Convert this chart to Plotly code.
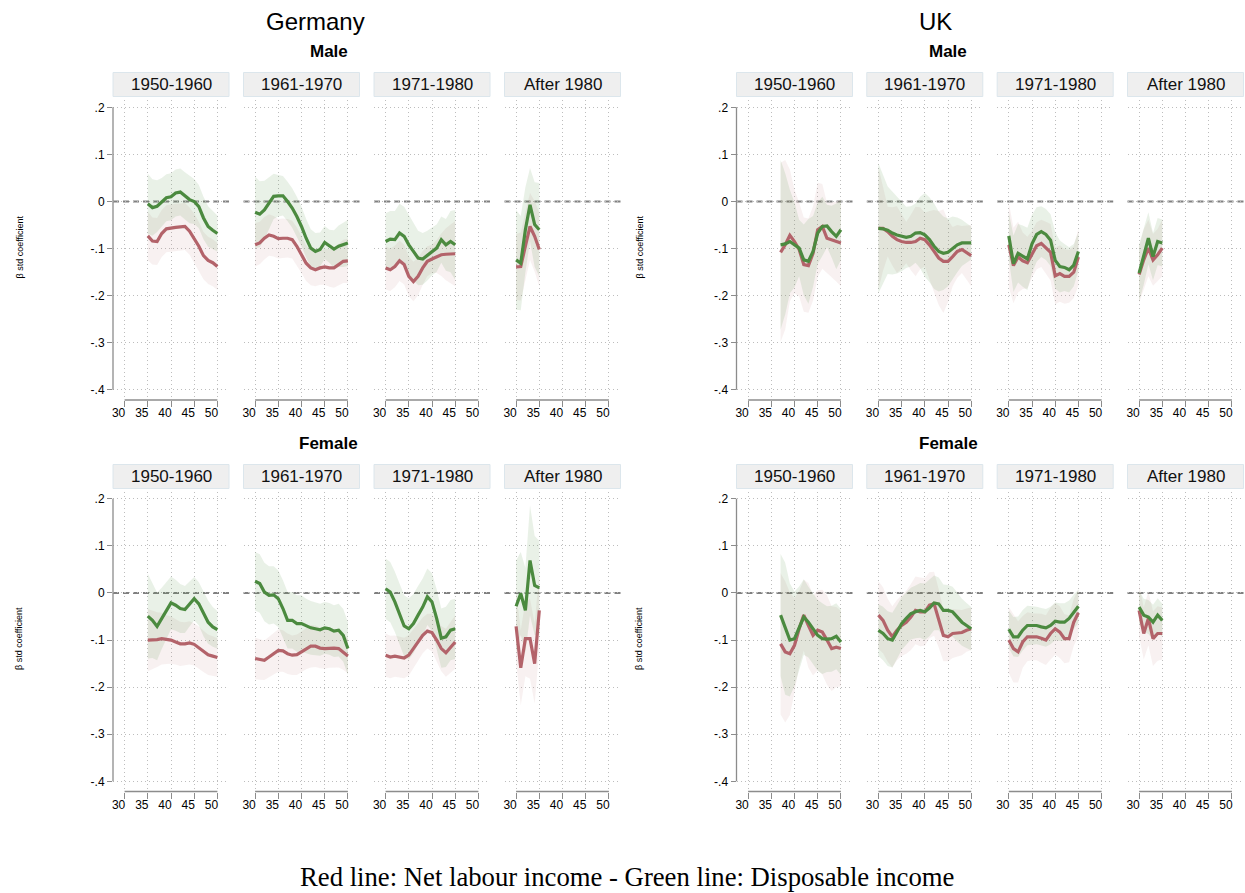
import plotly.graph_objects as go

# ---------------- data ----------------
COUNTRIES = ["Germany", "UK"]
GENDERS = ["Male", "Female"]
COHORTS = ["1950-1960", "1961-1970", "1971-1980", "After 1980"]
X_TICKS = [30, 35, 40, 45, 50]
Y_TICKS = [-0.4, -0.3, -0.2, -0.1, 0, 0.1, 0.2]
Y_TICKTEXT = ["-.4", "-.3", "-.2", "-.1", "0", ".1", ".2"]
CAPTION = "Red line: Net labour income - Green line: Disposable income"
Y_TITLE = "β std coefficient"

AGES_35_50 = [35, 36, 37, 38, 39, 40, 41, 42, 43, 44, 45, 46, 47, 48, 49, 50]
AGES_37_50 = [37, 38, 39, 40, 41, 42, 43, 44, 45, 46, 47, 48, 49, 50]
AGES_30_50 = [30, 31, 32, 33, 34, 35, 36, 37, 38, 39, 40, 41, 42, 43, 44, 45, 46, 47, 48, 49, 50]
AGES_30_45 = [30, 31, 32, 33, 34, 35, 36, 37, 38, 39, 40, 41, 42, 43, 44, 45]
AGES_30_35 = [30, 31, 32, 33, 34, 35]

# Germany - Male
GER_M_1950_RED = [-.073, -.084, -.085, -.068, -.058, -.056, -.055, -.054, -.053, -.063, -.078, -.095, -.115, -.125, -.130, -.138]
GER_M_1950_GREEN = [-.005, -.013, -.010, -.002, .008, .010, .018, .020, .012, .004, .000, -.011, -.035, -.053, -.061, -.068]
GER_M_1950_RED_HW = [.052, .050, .050, .050, .050, .050, .050, .050, .050, .050, .052, .052, .050, .050, .050, .050]
GER_M_1950_GREEN_HW = [.064, .060, .055, .052, .050, .050, .050, .050, .050, .050, .048, .046, .045, .043, .040, .038]

GER_M_1961_RED = [-.092, -.088, -.078, -.071, -.074, -.079, -.078, -.078, -.081, -.095, -.113, -.131, -.141, -.145, -.141, -.139, -.141, -.141, -.134, -.127, -.126]
GER_M_1961_GREEN = [-.023, -.027, -.018, -.004, .011, .012, .012, .000, -.014, -.032, -.053, -.078, -.099, -.106, -.102, -.087, -.095, -.101, -.095, -.092, -.088]
GER_M_1961_RED_HW = [.046, .045, .045, .044, .043, .042, .042, .041, .040, .040, .039, .038, .037, .035, .036, .038, .040, .042, .044, .046, .047]
GER_M_1961_GREEN_HW = [.076, .070, .062, .055, .048, .044, .042, .042, .042, .042, .042, .041, .040, .039, .036, .035, .035, .040, .044, .047, .049]

GER_M_1971_RED = [-.141, -.145, -.138, -.126, -.134, -.159, -.170, -.159, -.141, -.127, -.122, -.117, -.113, -.112, -.111, -.111]
GER_M_1971_GREEN = [-.085, -.080, -.081, -.067, -.074, -.092, -.106, -.120, -.122, -.115, -.106, -.099, -.081, -.092, -.085, -.092]
GER_M_1971_RED_HW = [.046, .045, .044, .043, .042, .042, .042, .040, .036, .032, .030, .035, .045, .055, .062, .069]
GER_M_1971_GREEN_HW = [.060, .060, .061, .062, .063, .064, .062, .058, .055, .053, .051, .050, .049, .055, .065, .074]

GER_M_1980_RED = [-.139, -.138, -.095, -.053, -.074, -.102]
GER_M_1980_GREEN = [-.124, -.131, -.060, -.007, -.049, -.060]
GER_M_1980_RED_HW = [.070, .072, .072, .071, .075, .078]
GER_M_1980_GREEN_HW = [.106, .100, .090, .078, .090, .099]

# Germany - Female
GER_F_1950_RED = [-.100, -.100, -.099, -.097, -.099, -.100, -.104, -.108, -.108, -.106, -.109, -.116, -.124, -.131, -.134, -.137]
GER_F_1950_GREEN = [-.049, -.058, -.071, -.054, -.037, -.021, -.026, -.033, -.035, -.023, -.012, -.023, -.044, -.062, -.072, -.078]
GER_F_1950_RED_HW = [.066, .062, .058, .055, .052, .050, .048, .047, .046, .046, .045, .045, .044, .043, .042, .041]
GER_F_1950_GREEN_HW = [.090, .080, .072, .065, .060, .056, .054, .052, .050, .048, .046, .046, .048, .046, .042, .040]

GER_F_1961_RED = [-.139, -.141, -.143, -.136, -.129, -.122, -.123, -.129, -.132, -.131, -.125, -.118, -.113, -.113, -.117, -.118, -.117, -.117, -.118, -.125, -.134]
GER_F_1961_GREEN = [.025, .020, .002, -.005, -.004, -.012, -.033, -.058, -.058, -.065, -.065, -.070, -.074, -.076, -.078, -.074, -.076, -.081, -.079, -.090, -.118]
GER_F_1961_RED_HW = [.044, .043, .042, .043, .044, .045, .044, .043, .042, .043, .043, .044, .045, .044, .043, .043, .042, .041, .040, .038, .037]
GER_F_1961_GREEN_HW = [.062, .062, .062, .062, .061, .060, .060, .060, .060, .060, .060, .058, .057, .056, .055, .055, .055, .055, .056, .056, .056]

GER_F_1971_RED = [-.132, -.136, -.134, -.136, -.138, -.132, -.118, -.104, -.090, -.081, -.084, -.100, -.118, -.127, -.115, -.104]
GER_F_1971_GREEN = [.009, .002, -.019, -.044, -.070, -.076, -.065, -.047, -.030, -.008, -.019, -.054, -.096, -.093, -.079, -.076]
GER_F_1971_RED_HW = [.046, .045, .044, .044, .043, .043, .042, .040, .038, .037, .040, .044, .048, .051, .054, .057]
GER_F_1971_GREEN_HW = [.064, .064, .064, .065, .065, .065, .063, .062, .061, .060, .061, .062, .063, .064, .064, .064]

GER_F_1980_RED = [-.071, -.159, -.097, -.097, -.150, -.037]
GER_F_1980_GREEN = [-.028, -.001, -.037, .069, .016, .011]
GER_F_1980_RED_HW = [.075, .080, .080, .085, .085, .080]
GER_F_1980_GREEN_HW = [.097, .088, .090, .117, .105, .100]

# UK - Male
UK_M_1950_RED = [-.108, -.092, -.072, -.085, -.102, -.134, -.136, -.110, -.060, -.053, -.078, -.081, -.085, -.088]
UK_M_1950_GREEN = [-.092, -.090, -.085, -.092, -.099, -.124, -.127, -.106, -.067, -.053, -.052, -.064, -.074, -.060]
UK_M_1950_RED_HW = [.190, .180, .140, .110, .100, .100, .100, .100, .100, .090, .075, .080, .085, .092]
UK_M_1950_GREEN_HW = [.180, .150, .110, .090, .060, .075, .090, .075, .065, .063, .045, .055, .070, .064]

UK_M_1961_RED = [-.057, -.057, -.064, -.074, -.081, -.085, -.087, -.087, -.085, -.078, -.081, -.092, -.106, -.120, -.127, -.127, -.117, -.106, -.102, -.108, -.115]
UK_M_1961_GREEN = [-.057, -.058, -.061, -.067, -.071, -.074, -.076, -.074, -.067, -.066, -.071, -.081, -.095, -.106, -.110, -.108, -.099, -.092, -.088, -.088, -.088]
UK_M_1961_RED_HW = [.130, .090, .053, .062, .071, .058, .044, .059, .074, .066, .057, .072, .088, .100, .110, .087, .063, .056, .050, .057, .065]
UK_M_1961_GREEN_HW = [.138, .115, .093, .088, .082, .074, .065, .064, .063, .076, .089, .090, .091, .085, .078, .072, .067, .058, .049, .042, .035]

UK_M_1971_RED = [-.092, -.136, -.118, -.126, -.130, -.112, -.094, -.089, -.098, -.108, -.158, -.153, -.159, -.159, -.150, -.118]
UK_M_1971_GREEN = [-.073, -.132, -.110, -.116, -.122, -.090, -.070, -.064, -.070, -.082, -.125, -.138, -.140, -.145, -.135, -.106]
UK_M_1971_RED_HW = [.090, .080, .075, .060, .055, .050, .050, .050, .055, .060, .060, .060, .058, .056, .055, .060]
UK_M_1971_GREEN_HW = [.050, .060, .062, .065, .066, .062, .058, .054, .054, .055, .060, .055, .050, .048, .045, .040]

UK_M_1980_RED = [-.155, -.124, -.099, -.124, -.113, -.099]
UK_M_1980_GREEN = [-.152, -.117, -.078, -.117, -.085, -.088]
UK_M_1980_RED_HW = [.060, .065, .060, .055, .055, .060]
UK_M_1980_GREEN_HW = [.060, .060, .055, .050, .050, .050]

# UK - Female
UK_F_1950_RED = [-.108, -.125, -.129, -.111, -.076, -.047, -.069, -.090, -.079, -.083, -.100, -.118, -.115, -.118]
UK_F_1950_GREEN = [-.047, -.076, -.100, -.097, -.076, -.051, -.062, -.076, -.090, -.097, -.098, -.097, -.092, -.104]
UK_F_1950_RED_HW = [.150, .150, .130, .100, .080, .075, .090, .085, .085, .090, .095, .090, .085, .080]
UK_F_1950_GREEN_HW = [.130, .140, .120, .100, .090, .080, .075, .075, .075, .075, .070, .070, .070, .070]

UK_F_1961_RED = [-.047, -.058, -.079, -.093, -.079, -.069, -.062, -.051, -.037, -.040, -.040, -.026, -.023, -.054, -.090, -.093, -.086, -.085, -.084, -.079, -.076]
UK_F_1961_GREEN = [-.079, -.086, -.097, -.100, -.083, -.065, -.054, -.044, -.040, -.037, -.040, -.032, -.021, -.023, -.037, -.037, -.040, -.051, -.062, -.069, -.076]
UK_F_1961_RED_HW = [.072, .070, .067, .065, .064, .065, .067, .070, .072, .073, .072, .070, .068, .062, .055, .052, .052, .050, .048, .046, .045]
UK_F_1961_GREEN_HW = [.055, .057, .058, .058, .057, .056, .055, .055, .056, .058, .060, .060, .058, .056, .055, .054, .053, .052, .050, .048, .046]

UK_F_1971_RED = [-.100, -.118, -.125, -.104, -.093, -.093, -.093, -.096, -.100, -.086, -.076, -.083, -.097, -.097, -.062, -.042]
UK_F_1971_GREEN = [-.077, -.093, -.093, -.079, -.069, -.069, -.069, -.072, -.074, -.069, -.060, -.062, -.062, -.054, -.040, -.028]
UK_F_1971_RED_HW = [.070, .072, .065, .055, .052, .050, .050, .052, .053, .055, .055, .055, .052, .050, .050, .050]
UK_F_1971_GREEN_HW = [.040, .042, .043, .043, .042, .041, .040, .040, .040, .040, .040, .040, .040, .038, .037, .035]

UK_F_1980_RED = [-.037, -.086, -.054, -.097, -.086, -.086]
UK_F_1980_GREEN = [-.030, -.047, -.051, -.062, -.047, -.058]
UK_F_1980_RED_HW = [.055, .055, .057, .058, .058, .055]
UK_F_1980_GREEN_HW = [.035, .035, .036, .037, .036, .035]

PANELS = {
    ("Germany", "Male"): [
        (AGES_35_50, GER_M_1950_RED, GER_M_1950_GREEN, GER_M_1950_RED_HW, GER_M_1950_GREEN_HW),
        (AGES_30_50, GER_M_1961_RED, GER_M_1961_GREEN, GER_M_1961_RED_HW, GER_M_1961_GREEN_HW),
        (AGES_30_45, GER_M_1971_RED, GER_M_1971_GREEN, GER_M_1971_RED_HW, GER_M_1971_GREEN_HW),
        (AGES_30_35, GER_M_1980_RED, GER_M_1980_GREEN, GER_M_1980_RED_HW, GER_M_1980_GREEN_HW),
    ],
    ("Germany", "Female"): [
        (AGES_35_50, GER_F_1950_RED, GER_F_1950_GREEN, GER_F_1950_RED_HW, GER_F_1950_GREEN_HW),
        (AGES_30_50, GER_F_1961_RED, GER_F_1961_GREEN, GER_F_1961_RED_HW, GER_F_1961_GREEN_HW),
        (AGES_30_45, GER_F_1971_RED, GER_F_1971_GREEN, GER_F_1971_RED_HW, GER_F_1971_GREEN_HW),
        (AGES_30_35, GER_F_1980_RED, GER_F_1980_GREEN, GER_F_1980_RED_HW, GER_F_1980_GREEN_HW),
    ],
    ("UK", "Male"): [
        (AGES_37_50, UK_M_1950_RED, UK_M_1950_GREEN, UK_M_1950_RED_HW, UK_M_1950_GREEN_HW),
        (AGES_30_50, UK_M_1961_RED, UK_M_1961_GREEN, UK_M_1961_RED_HW, UK_M_1961_GREEN_HW),
        (AGES_30_45, UK_M_1971_RED, UK_M_1971_GREEN, UK_M_1971_RED_HW, UK_M_1971_GREEN_HW),
        (AGES_30_35, UK_M_1980_RED, UK_M_1980_GREEN, UK_M_1980_RED_HW, UK_M_1980_GREEN_HW),
    ],
    ("UK", "Female"): [
        (AGES_37_50, UK_F_1950_RED, UK_F_1950_GREEN, UK_F_1950_RED_HW, UK_F_1950_GREEN_HW),
        (AGES_30_50, UK_F_1961_RED, UK_F_1961_GREEN, UK_F_1961_RED_HW, UK_F_1961_GREEN_HW),
        (AGES_30_45, UK_F_1971_RED, UK_F_1971_GREEN, UK_F_1971_RED_HW, UK_F_1971_GREEN_HW),
        (AGES_30_35, UK_F_1980_RED, UK_F_1980_GREEN, UK_F_1980_RED_HW, UK_F_1980_GREEN_HW),
    ],
}

# ---------------- layout geometry (pixels) ----------------
W, H = 1245, 893
PANEL_LEFT = {"Germany": [113, 243.5, 374, 504.5], "UK": [736.5, 866.8, 997.2, 1127.5]}
PANEL_W = 116
ROW_TOP = {"Male": 100, "Female": 491.5}
ROW_H = 300
STRIP_TOP = {"Male": 72.5, "Female": 464.5}
STRIP_H = 24
TITLE_X = {"Germany": 315, "UK": 935}
SUBTITLE_X = {"Germany": 328.5, "UK": 948}
SUBTITLE_Y = {"Male": 51, "Female": 443}
YTITLE_X = {"Germany": 19, "UK": 639}
YTITLE_Y = {"Male": 247.5, "Female": 639}
X_RANGE = [27.5, 52.5]
Y_RANGE = [-0.4215, 0.2155]

RED = "#b3636a"
GREEN = "#4b8a3f"
RED_FILL = "rgba(180,95,100,0.09)"
GREEN_FILL = "rgba(78,140,60,0.12)"
AXIS_GREY = "#8c8c8c"
GRID_GREY = "#bdbdbd"
SANS = "Liberation Sans, Arial, Helvetica, sans-serif"


def px(x):
    return x / W


def py(y):
    return 1 - y / H


fig = go.Figure()
layout = dict(
    width=W, height=H, margin=dict(l=0, r=0, t=0, b=0),
    paper_bgcolor="white", plot_bgcolor="white", showlegend=False,
    font=dict(family=SANS, color="black"),
)
shapes = []
annotations = []

k = 0
for c in COUNTRIES:
    for g in GENDERS:
        for j, cohort in enumerate(COHORTS):
            k += 1
            xa = "x" if k == 1 else f"x{k}"
            ya = "y" if k == 1 else f"y{k}"
            xkey = "xaxis" if k == 1 else f"xaxis{k}"
            ykey = "yaxis" if k == 1 else f"yaxis{k}"
            left = PANEL_LEFT[c][j]
            top = ROW_TOP[g]
            layout[xkey] = dict(
                domain=[px(left), px(left + PANEL_W)], range=X_RANGE, anchor=ya,
                tickvals=X_TICKS, ticks="outside", ticklen=6, tickwidth=1.2,
                tickcolor=AXIS_GREY, showline=False, zeroline=False,
                showgrid=True, gridcolor=GRID_GREY, griddash="1px,3px", gridwidth=1,
                tickfont=dict(size=12, family=SANS), ticklabelshift=-6,
                ticklabelstandoff=-4, fixedrange=True,
            )
            first = (j == 0)
            layout[ykey] = dict(
                domain=[py(top + ROW_H), py(top)], range=Y_RANGE, anchor=xa,
                tickvals=Y_TICKS, ticktext=Y_TICKTEXT,
                ticks="outside" if first else "", ticklen=5, tickwidth=1.2,
                tickcolor=AXIS_GREY, showticklabels=first,
                showline=False, zeroline=False,
                showgrid=True, gridcolor=GRID_GREY, griddash="1px,3px", gridwidth=1,
                tickfont=dict(size=12, family=SANS), fixedrange=True,
            )
            ages, red, green, red_hw, green_hw = PANELS[(c, g)][j]
            # confidence bands
            for est, hw, fillc in ((red, red_hw, RED_FILL), (green, green_hw, GREEN_FILL)):
                upper = [e + h for e, h in zip(est, hw)]
                lower = [e - h for e, h in zip(est, hw)]
                fig.add_trace(go.Scatter(
                    x=ages + ages[::-1], y=upper + lower[::-1],
                    xaxis=xa, yaxis=ya, mode="lines", fill="toself",
                    fillcolor=fillc, line=dict(width=0), hoverinfo="skip",
                ))
            fig.add_trace(go.Scatter(x=ages, y=red, xaxis=xa, yaxis=ya, mode="lines",
                                     line=dict(color=RED, width=3.2), name="Net labour income"))
            fig.add_trace(go.Scatter(x=ages, y=green, xaxis=xa, yaxis=ya, mode="lines",
                                     line=dict(color=GREEN, width=3.2), name="Disposable income"))
            # zero reference line
            shapes.append(dict(type="line", xref=f"{xa} domain", yref=ya, x0=0, x1=1, y0=0, y1=0,
                               line=dict(color="#808080", width=2, dash="6px,4px"), layer="below"))
            # x axis line spanning the tick range
            shapes.append(dict(type="line", xref=xa, yref=f"{ya} domain", x0=X_TICKS[0], x1=X_TICKS[-1],
                               y0=0, y1=0, line=dict(color=AXIS_GREY, width=1.3)))
            if first:
                shapes.append(dict(type="line", xref=f"{xa} domain", yref=ya, x0=0, x1=0,
                                   y0=Y_TICKS[0], y1=Y_TICKS[-1], line=dict(color=AXIS_GREY, width=1.3)))
            # strip
            st = STRIP_TOP[g]
            shapes.append(dict(type="rect", xref="paper", yref="paper",
                               x0=px(left), x1=px(left + PANEL_W), y0=py(st + STRIP_H), y1=py(st),
                               fillcolor="#efefef", line=dict(color="#dce6ec", width=1)))
            annotations.append(dict(text=cohort, xref="paper", yref="paper",
                                    x=px(left + PANEL_W / 2), y=py(st + STRIP_H / 2),
                                    xanchor="center", yanchor="middle", showarrow=False,
                                    font=dict(size=17, family=SANS, color="#111111")))
        # subtitle and y title
        annotations.append(dict(text=f"<b>{g}</b>", xref="paper", yref="paper",
                                x=px(SUBTITLE_X[c]), y=py(SUBTITLE_Y[g]), xanchor="center", yanchor="middle",
                                showarrow=False, font=dict(size=17, family=SANS)))
        annotations.append(dict(text=Y_TITLE, xref="paper", yref="paper", textangle=-90,
                                x=px(YTITLE_X[c]), y=py(YTITLE_Y[g]), xanchor="center", yanchor="middle",
                                showarrow=False, font=dict(size=9, family=SANS)))
    annotations.append(dict(text=c, xref="paper", yref="paper", x=px(TITLE_X[c]), y=py(22),
                            xanchor="center", yanchor="middle", showarrow=False,
                            font=dict(size=24, family=SANS)))

annotations.append(dict(text=CAPTION, xref="paper", yref="paper", x=px(627), y=py(877),
                        xanchor="center", yanchor="middle", showarrow=False,
                        font=dict(size=26.7, family="Liberation Serif, Times New Roman, serif")))

layout["shapes"] = shapes
layout["annotations"] = annotations
fig.update_layout(**layout)
fig.write_html("out.html", config={"displayModeBar": False},
               post_script="document.body.style.margin='0px';document.body.style.overflow='hidden';")
